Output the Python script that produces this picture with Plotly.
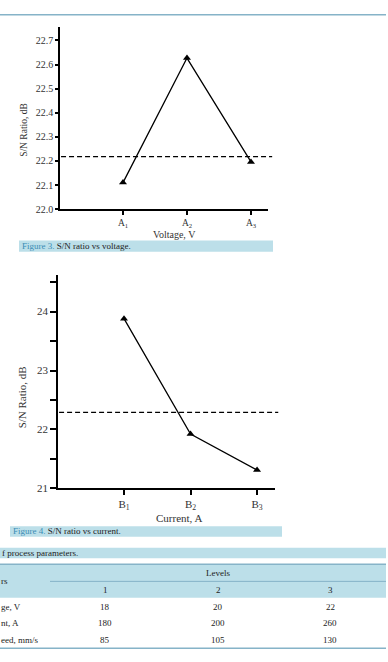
import plotly.graph_objects as go

W, H = 388, 662

# ---------------- data ----------------
voltage_levels = ["A<sub>1</sub>", "A<sub>2</sub>", "A<sub>3</sub>"]
voltage_sn = [22.11, 22.627, 22.196]
voltage_mean = 22.218
voltage_ticks = [22.0, 22.1, 22.2, 22.3, 22.4, 22.5, 22.6, 22.7]

current_levels = ["B<sub>1</sub>", "B<sub>2</sub>", "B<sub>3</sub>"]
current_sn = [23.88, 21.92, 21.31]
current_mean = 22.29
current_ticks = [21, 21.5, 22, 22.5, 23, 23.5, 24, 24.5]
current_ticklabels = ["21", " ", "22", " ", "23", " ", "24", " "]

caption3_label = "Figure 3."
caption3_text = "S/N ratio vs voltage."
caption4_label = "Figure 4."
caption4_text = "S/N ratio vs current."
table_caption = "f process parameters."
table_group_header = "Levels"
table_first_header = "rs"
level_headers = ["1", "2", "3"]
row_labels = ["ge, V", "nt, A", "eed, mm/s"]
table_values = [[18, 20, 22], [180, 200, 260], [85, 105, 130]]

# ---------------- helpers ----------------
FONT = "Liberation Serif"
CAP_BG = "#bcdfe9"
CAP_BLUE = "#3a8db5"
RULE = "#86b3c8"


def px(x):
    return x / W


def py(y):
    return 1 - y / H


pos1 = [1, 2, 3]

fig = go.Figure()

fig.add_trace(go.Scatter(x=pos1, y=voltage_sn, mode="lines+markers",
                         line=dict(color="black", width=1.3),
                         marker=dict(symbol="triangle-up", size=7, color="black"),
                         xaxis="x", yaxis="y", showlegend=False, hoverinfo="skip"))
fig.add_trace(go.Scatter(x=pos1, y=current_sn, mode="lines+markers",
                         line=dict(color="black", width=1.3),
                         marker=dict(symbol="triangle-up", size=7, color="black"),
                         xaxis="x2", yaxis="y2", showlegend=False, hoverinfo="skip"))

base = dict(showgrid=False, zeroline=False, linecolor="black", linewidth=1.5,
            tickcolor="black", tickwidth=1.5, fixedrange=True)
tf1 = dict(family=FONT, size=10, color="#333")
tf2 = dict(family=FONT, size=11, color="#333")

fig.update_layout(
    width=W, height=H, margin=dict(l=0, r=0, t=0, b=0),
    paper_bgcolor="white", plot_bgcolor="rgba(0,0,0,0)",
    xaxis=dict(domain=[px(60), px(268)], anchor="y", range=[0.016, 3.266],
               tickvals=pos1, ticktext=voltage_levels, ticks="outside", ticklen=4,
               showline=True, tickfont=dict(family=FONT, size=9.5, color="#333"), **base),
    xaxis3=dict(overlaying="x", anchor="y", range=[0.016, 3.266], tickvals=pos1,
                ticks="inside", ticklen=4, showticklabels=False, showline=False, **base),
    yaxis=dict(domain=[py(211), py(27)], anchor="x", range=[22.0, 22.757],
               tickvals=voltage_ticks, ticktext=[f"{v:.1f}" for v in voltage_ticks],
               ticks="outside", ticklen=3, showline=True, tickfont=tf1, **base),
    yaxis3=dict(overlaying="y", anchor="x", range=[22.0, 22.757], tickvals=voltage_ticks[1:],
                ticks="inside", ticklen=6, showticklabels=False, showline=False, **base),
    xaxis2=dict(domain=[px(58), px(275)], anchor="y2", range=[0.0075, 3.27],
                tickvals=pos1, ticktext=current_levels, ticks="outside", ticklen=5,
                showline=True, tickfont=tf2, **base),
    xaxis4=dict(overlaying="x2", anchor="y2", range=[0.0075, 3.27], tickvals=pos1,
                ticks="inside", ticklen=6, showticklabels=False, showline=False, **base),
    yaxis2=dict(domain=[py(492.7), py(278)], anchor="x2", range=[21, 24.614],
                tickvals=current_ticks, ticktext=current_ticklabels,
                ticks="outside", ticklen=6, showline=True, tickfont=tf2, **base),
    yaxis4=dict(overlaying="y2", anchor="x2", range=[21, 24.614], tickvals=current_ticks[1:],
                ticks="inside", ticklen=7, showticklabels=False, showline=False, **base),
)

# mean lines
fig.add_shape(type="line", xref="x domain", yref="y", x0=0.005, x1=1.02,
              y0=voltage_mean, y1=voltage_mean,
              line=dict(color="black", width=1.2, dash="5px,3px"))
fig.add_shape(type="line", xref="x2 domain", yref="y2", x0=0.005, x1=1.015,
              y0=current_mean, y1=current_mean,
              line=dict(color="black", width=1.2, dash="5px,3px"))

# top rule
fig.add_shape(type="line", xref="paper", yref="paper", x0=0, x1=px(386), y0=py(15), y1=py(15),
              line=dict(color=RULE, width=1.5))

ann = []
ann.append(dict(text="S/N Ratio, dB", x=px(24), y=py(131), textangle=-90,
                font=dict(family=FONT, size=9.5, color="#333")))
ann.append(dict(text="Voltage, V", x=px(174), y=py(230.5), yanchor="top", borderpad=0,
                font=dict(family=FONT, size=10, color="#333")))
ann.append(dict(text="S/N Ratio, dB", x=px(22), y=py(401), textangle=-90,
                font=dict(family=FONT, size=11, color="#333")))
ann.append(dict(text="Current, A", x=px(179), y=py(516), yanchor="top", borderpad=0,
                font=dict(family=FONT, size=11, color="#333")))


def caption(x0, x1, y0, y1, label, text):
    fig.add_shape(type="rect", xref="paper", yref="paper", x0=px(x0), x1=px(x1),
                  y0=py(y1), y1=py(y0), fillcolor=CAP_BG, line=dict(width=0), layer="below")
    full = (f"<span style='color:{CAP_BLUE}'>{label}</span> {text}" if label else text)
    ann.append(dict(text=full, x=px(x0 + 1), y=py((y0 + y1) / 2), xanchor="left",
                    font=dict(family=FONT, size=9, color="#222")))


caption(19, 273, 242.7, 254, caption3_label, caption3_text)
caption(10, 282, 531, 541.7, caption4_label, caption4_text)
caption(-1, 386, 552.7, 563.3, "", table_caption)

fig.add_shape(type="rect", xref="paper", yref="paper", x0=0, x1=px(386),
              y0=py(603.3), y1=py(569.3), fillcolor=CAP_BG, line=dict(width=0), layer="below")
fig.add_shape(type="line", xref="paper", yref="paper", x0=0, x1=px(386), y0=py(569.5), y1=py(569.5),
              line=dict(color=RULE, width=1.5))
fig.add_shape(type="line", xref="paper", yref="paper", x0=px(50), x1=px(386), y0=py(586.7), y1=py(586.7),
              line=dict(color=RULE, width=1))
fig.add_shape(type="line", xref="paper", yref="paper", x0=0, x1=px(386), y0=py(654.3), y1=py(654.3),
              line=dict(color=RULE, width=1.5))

tf = dict(family=FONT, size=9, color="#222")
col_x = [105, 218, 330]
ann.append(dict(text=table_group_header, x=px(218), y=py(578.7), font=tf))
ann.append(dict(text=table_first_header, x=px(-1), y=py(586.7), xanchor="left", font=tf))
for cx, h in zip(col_x, level_headers):
    ann.append(dict(text=h, x=px(cx), y=py(595), font=tf))
row_y = [612.3, 629, 646]
for ry, lab, vals in zip(row_y, row_labels, table_values):
    ann.append(dict(text=lab, x=px(-1), y=py(ry), xanchor="left", font=tf))
    for cx, v in zip(col_x, vals):
        ann.append(dict(text=str(v), x=px(cx), y=py(ry), font=tf))

for a in ann:
    a.setdefault("xref", "paper")
    a.setdefault("yref", "paper")
    a.setdefault("showarrow", False)
    a.setdefault("xanchor", "center")
    a.setdefault("yanchor", "middle")
fig.update_layout(annotations=ann)

fig.write_html("out.html")
